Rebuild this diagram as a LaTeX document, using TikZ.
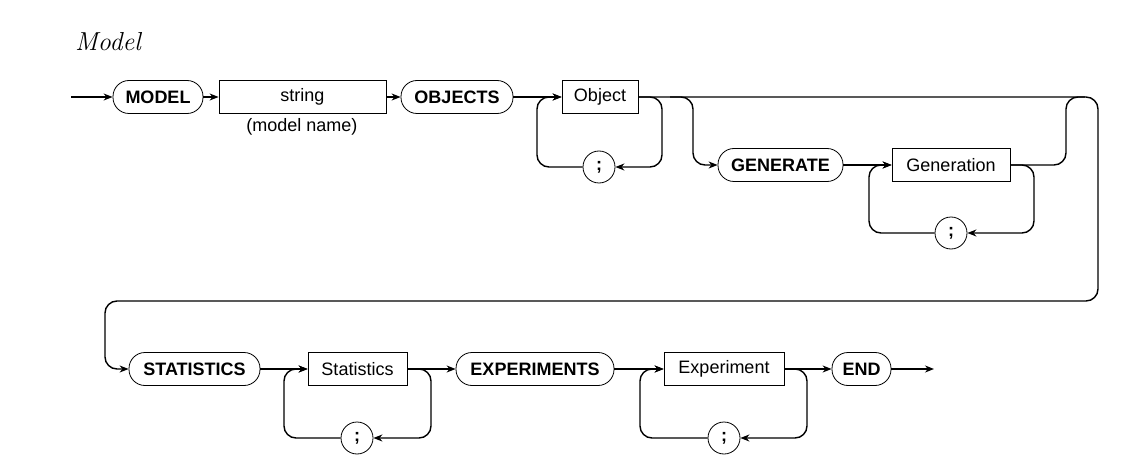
\documentclass[tikz,border=0pt]{standalone}
\usepackage{fontspec}
\setmainfont{Liberation Sans}
\newfontfamily\lmfont{Latin Modern Roman}
\usetikzlibrary{arrows.meta}
\tikzset{
  term/.style={draw,rounded corners=8pt,minimum height=16.5pt,inner sep=0pt,font=\fontsize{9}{11}\selectfont\bfseries},
  nterm/.style={draw,rectangle,minimum height=16.5pt,inner sep=0pt,font=\fontsize{9}{11}\selectfont},
  semi/.style={draw,circle,minimum size=16pt,inner sep=0pt,font=\fontsize{9}{11}\selectfont\bfseries},
  line/.style={line width=0.7pt,rounded corners=6pt},
  >={Stealth[length=4.5pt,width=3.5pt]}
}
\begin{document}
\begin{tikzpicture}[x=0.5pt,y=-0.5pt]
\useasboundingbox (0,0) rectangle (1136,476);

\node[font=\lmfont\itshape\fontsize{13}{15}\selectfont,anchor=west] (title) at (68,42) {Model};

% Knoten
\coordinate (start) at (71,97);
\node[term,minimum width=45pt] (model) at (158,97) {MODEL};
\node[nterm,minimum width=83.5pt] (string) at (302.5,97) {string};
\node[font=\fontsize{9}{11}\selectfont] (mname) at (302,127) {(model name)};
\node[term,minimum width=56pt] (objects) at (457,97) {OBJECTS};
\node[nterm,minimum width=38pt] (object) at (600,97) {Object};
\node[semi] (semi1) at (599,167) {;};

\node[term,minimum width=62.5pt] (generate) at (780.5,165) {GENERATE};
\node[nterm,minimum width=59pt] (generation) at (951,165) {Generation};
\node[semi] (semi2) at (951,233) {;};

\node[term,minimum width=65.5pt] (statistics) at (194.5,369) {STATISTICS};
\node[nterm,minimum width=49.5pt] (stats) at (357.5,369) {Statistics};
\node[semi] (semi3) at (357,438) {;};
\node[term,minimum width=79pt] (experiments) at (535,369) {EXPERIMENTS};
\node[nterm,minimum width=60pt] (experiment) at (724,369) {Experiment};
\node[semi] (semi4) at (724,438) {;};
\node[term,minimum width=29.5pt] (end) at (861.5,369) {END};
\coordinate (stop) at (934,369);

% Verbindungen
\draw[line,->] (start) -- (model);
\draw[line,->] (model) -- (string);
\draw[line,->] (string) -- (objects);
\draw[line,->] (objects) -- (object);
\draw[line,->] (object.east) -- (662,97) -- (662,167) -- (semi1.east);
\draw[line,->] (semi1.west) -- (537,167) -- (537,97) -- (object.west);

\draw[line,->] (object.east) -- (1098,97) -- (1098,301) -- (105,301) -- (105,369) -- (statistics.west);
\draw[line,->] (670,97) -- (693,97) -- (693,165) -- (generate.west);
\draw[line,->] (generate) -- (generation);
\draw[line,->] (generation.east) -- (1034,165) -- (1034,233) -- (semi2.east);
\draw[line,->] (semi2.west) -- (869,233) -- (869,165) -- (generation.west);
\draw[line] (generation.east) -- (1066,165) -- (1066,97) -- (1085,97);

\draw[line,->] (statistics) -- (stats);
\draw[line,->] (stats.east) -- (431,369) -- (431,438) -- (semi3.east);
\draw[line,->] (semi3.west) -- (284,438) -- (284,369) -- (stats.west);
\draw[line,->] (stats) -- (experiments);
\draw[line,->] (experiments) -- (experiment);
\draw[line,->] (experiment.east) -- (807,369) -- (807,438) -- (semi4.east);
\draw[line,->] (semi4.west) -- (640,438) -- (640,369) -- (experiment.west);
\draw[line,->] (experiment) -- (end);
\draw[line,->] (end) -- (stop);
\end{tikzpicture}
\end{document}
